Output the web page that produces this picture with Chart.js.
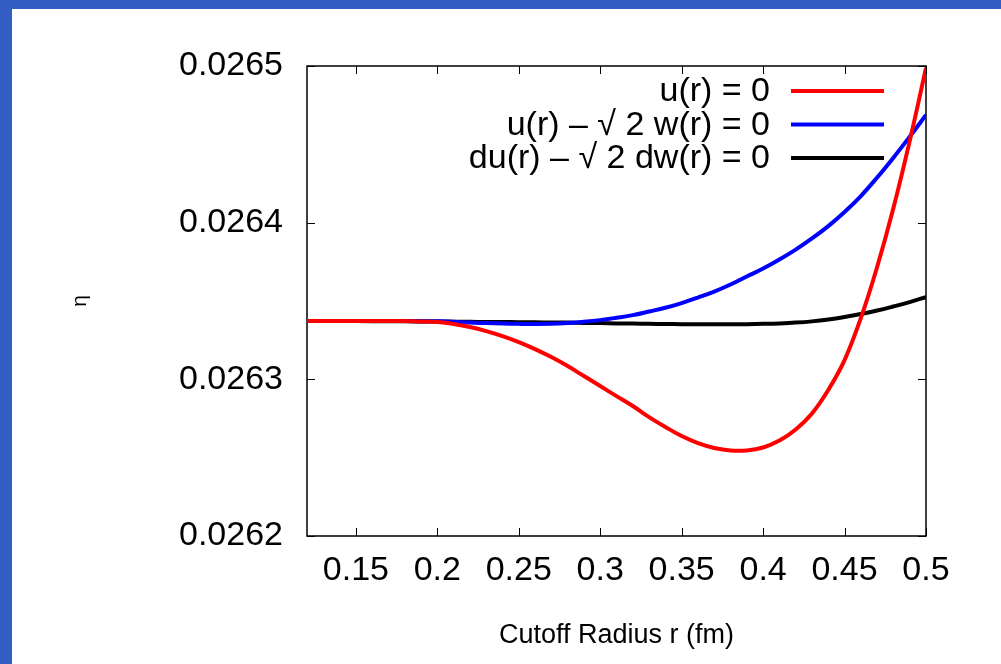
<!DOCTYPE html>
<html>
<head>
<meta charset="utf-8">
<script src="https://cdn.jsdelivr.net/npm/chart.js@4.4.1/dist/chart.umd.min.js"></script>
<style>
  html, body { margin: 0; padding: 0; background: #335fc4; width: 1001px; height: 664px; overflow: hidden; }
  #wrap { position: absolute; left: 12px; top: 9px; width: 989px; height: 655px; background: #ffffff; }
  canvas { display: block; }
</style>
</head>
<body>
<div id="wrap"><canvas id="c" width="989" height="655"></canvas></div>
<script>
// ---- data ----
const rValues = [0.12, 0.14, 0.16, 0.18,
  0.20, 0.21, 0.22, 0.23, 0.24, 0.25, 0.26, 0.27, 0.28, 0.29,
  0.30, 0.31, 0.32, 0.33, 0.34, 0.35, 0.36, 0.37, 0.38, 0.39,
  0.40, 0.41, 0.42, 0.43, 0.44, 0.45, 0.46, 0.47, 0.48, 0.49, 0.50];
const etaU = [0.0263372, 0.0263372, 0.0263373, 0.0263372,
  0.0263366, 0.0263353, 0.0263334, 0.0263308, 0.0263276, 0.0263238, 0.0263193, 0.0263142, 0.0263085, 0.0263021,
  0.0262957, 0.0262893, 0.0262830, 0.0262759, 0.0262696, 0.0262638, 0.0262593, 0.0262562, 0.0262546, 0.0262546,
  0.0262565, 0.0262609, 0.0262680, 0.0262782, 0.0262932, 0.0263123, 0.0263391, 0.0263717, 0.0264093, 0.0264521, 0.0264987];
const etaUW = [0.0263372, 0.0263372, 0.0263372, 0.0263372,
  0.0263370, 0.0263367, 0.0263362, 0.0263359, 0.0263356, 0.0263354, 0.0263353, 0.0263354, 0.0263359, 0.0263367,
  0.0263378, 0.0263393, 0.0263410, 0.0263433, 0.0263457, 0.0263487, 0.0263522, 0.0263560, 0.0263605, 0.0263656,
  0.0263707, 0.0263765, 0.0263828, 0.0263899, 0.0263978, 0.0264068, 0.0264170, 0.0264288, 0.0264415, 0.0264549, 0.0264687];
const etaDUDW = [0.0263372, 0.0263372, 0.0263371, 0.0263370,
  0.0263369, 0.0263368, 0.0263367, 0.0263366, 0.0263366, 0.0263365, 0.0263364, 0.0263363, 0.0263362, 0.0263360,
  0.0263359, 0.0263357, 0.0263356, 0.0263354, 0.0263353, 0.0263352, 0.0263351, 0.0263351, 0.0263351, 0.0263352,
  0.0263354, 0.0263357, 0.0263362, 0.0263370, 0.0263382, 0.0263398, 0.0263417, 0.0263439, 0.0263465, 0.0263493, 0.0263525];
const seriesLabels = ["u(r) = 0", "u(r) \u2013 \u221A 2 w(r) = 0", "du(r) \u2013 \u221A 2 dw(r) = 0"];
const xTickValues = [0.15, 0.2, 0.25, 0.3, 0.35, 0.4, 0.45, 0.5];
const yTickValues = [0.0262, 0.0263, 0.0264, 0.0265];
const xAxisTitle = "Cutoff Radius r (fm)";
const yAxisTitle = "\u03B7";

const FONT = "'Liberation Sans', Arial, Helvetica, sans-serif";
const colors = ["#ff0000", "#0000ff", "#000000"];
const seriesData = [etaU, etaUW, etaDUDW];

const datasets = seriesData.map((arr, i) => ({
  label: seriesLabels[i],
  data: rValues.map((x, k) => ({ x: x, y: arr[k] })),
  borderColor: colors[i],
  backgroundColor: colors[i],
  borderWidth: 4,
  pointRadius: 0,
  fill: false,
  tension: 0.4
}));

const framePlugin = {
  id: 'frame',
  beforeDatasetsDraw(chart) {
    const { ctx, chartArea: a, scales } = chart;
    ctx.save();
    ctx.strokeStyle = '#000';
    ctx.lineWidth = 1.5;
    ctx.strokeRect(a.left, a.top, a.right - a.left, a.bottom - a.top);
    ctx.lineWidth = 1;
    const tl = 8;
    ctx.beginPath();
    xTickValues.forEach(v => {
      const px = Math.round(scales.x.getPixelForValue(v)) + 0.5;
      ctx.moveTo(px, a.bottom); ctx.lineTo(px, a.bottom - tl);
      ctx.moveTo(px, a.top); ctx.lineTo(px, a.top + tl);
    });
    yTickValues.forEach(v => {
      const py = Math.round(scales.y.getPixelForValue(v)) + 0.5;
      ctx.moveTo(a.left, py); ctx.lineTo(a.left + tl, py);
      ctx.moveTo(a.right, py); ctx.lineTo(a.right - tl, py);
    });
    ctx.stroke();
    ctx.restore();
  }
};

const legendPlugin = {
  id: 'keyLegend',
  afterDraw(chart) {
    const { ctx, chartArea: a } = chart;
    ctx.save();
    ctx.font = "34px " + FONT;
    ctx.textAlign = 'right';
    ctx.textBaseline = 'middle';
    chart.data.datasets.forEach((ds, i) => {
      const y = a.top + 25 + i * 33.5;
      ctx.fillStyle = '#000';
      ctx.fillText(ds.label, a.right - 156, y + 1);
      ctx.strokeStyle = ds.borderColor;
      ctx.lineWidth = 4;
      ctx.beginPath();
      ctx.moveTo(a.right - 135, y);
      ctx.lineTo(a.right - 42, y);
      ctx.stroke();
    });
    ctx.restore();
  }
};

new Chart(document.getElementById('c'), {
  type: 'line',
  data: { datasets: datasets },
  options: {
    responsive: false,
    animation: false,
    events: [],
    layout: { padding: { top: 57, right: 75, left: 0, bottom: 0 } },
    plugins: { legend: { display: false }, tooltip: { enabled: false } },
    scales: {
      x: {
        type: 'linear',
        min: 0.12, max: 0.5,
        afterBuildTicks: s => { s.ticks = xTickValues.map(v => ({ value: v })); },
        afterFit: s => { s.height = 128; },
        grid: { display: false, drawTicks: false },
        border: { display: false },
        ticks: {
          color: '#000', padding: 14, maxRotation: 0, autoSkip: false,
          font: { family: FONT, size: 34 },
          callback: v => String(+v.toFixed(2))
        },
        title: { display: true, text: xAxisTitle, color: '#000', font: { family: FONT, size: 27 }, padding: { top: 0, bottom: 12 } }
      },
      y: {
        type: 'linear',
        min: 0.0262, max: 0.0265,
        afterBuildTicks: s => { s.ticks = yTickValues.map(v => ({ value: v })); },
        afterFit: s => { s.width = 295; },
        grid: { display: false, drawTicks: false },
        border: { display: false },
        ticks: {
          color: '#000', padding: 24, autoSkip: false,
          font: { family: FONT, size: 34 },
          callback: v => v.toFixed(4)
        },
        title: { display: true, text: yAxisTitle, color: '#000', font: { family: FONT, size: 21 }, padding: { top: 56, bottom: 0 } }
      }
    }
  },
  plugins: [framePlugin, legendPlugin]
});
</script>
</body>
</html>
